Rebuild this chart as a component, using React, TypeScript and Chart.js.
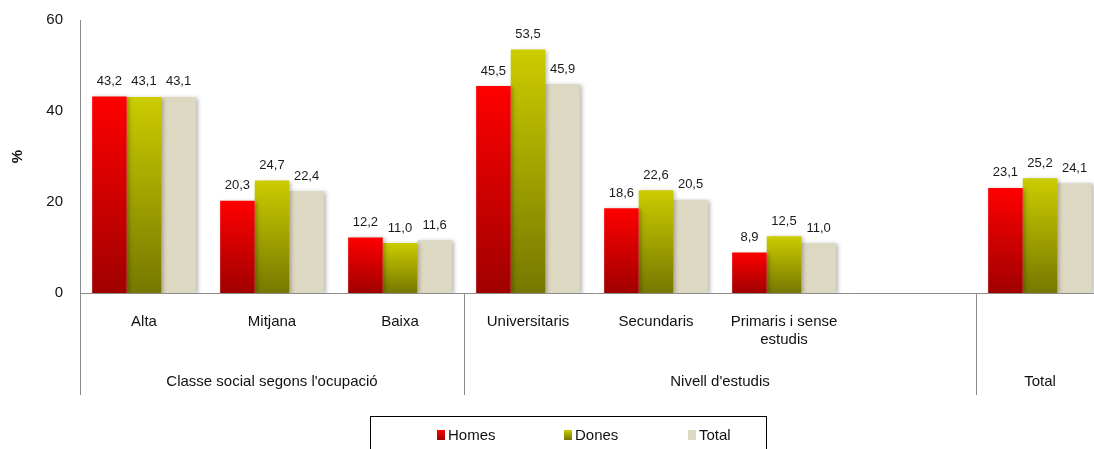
import React, { useEffect, useRef } from "react";
import { Chart, registerables } from "chart.js";

Chart.register(...registerables);

const categories: (string | string[])[] = [
  "Alta",
  "Mitjana",
  "Baixa",
  "Universitaris",
  "Secundaris",
  ["Primaris i sense", "estudis"],
  "",
  "",
];
const homes: (number | null)[] = [43.2, 20.3, 12.2, 45.5, 18.6, 8.9, null, 23.1];
const dones: (number | null)[] = [43.1, 24.7, 11.0, 53.5, 22.6, 12.5, null, 25.2];
const total: (number | null)[] = [43.1, 22.4, 11.6, 45.9, 20.5, 11.0, null, 24.1];
const groupLabels = ["Classe social segons l'ocupació", "Nivell d'estudis", "Total"];
const groupStarts = [0, 3, 7];
const groupEnds = [2, 6, 7];
const groupDividers = [2.5, 6.5];
const seriesNames = ["Homes", "Dones", "Total"];
const yTicks = [0, 20, 40, 60];
const yMin = 0;
const yMax = 60;
const axisTitle = "%";

const FONT = "'Liberation Sans', Arial, sans-serif";

const grads: [string, string][] = [
  ["#ff0000", "#a00000"],
  ["#cccc00", "#777700"],
  ["#ddd8c2", "#ddd8c2"],
];

function makeBg(idx: number) {
  return (ctx: any) => {
    const chart = ctx.chart;
    const [top, bot] = grads[idx];
    if (ctx.type !== "data" || !chart.chartArea || ctx.raw == null) return top;
    const ys = chart.scales.y;
    const y0 = ys.getPixelForValue(ctx.raw);
    const y1 = ys.getPixelForValue(0);
    if (!isFinite(y0) || !isFinite(y1) || y1 - y0 < 1) return top;
    const g = chart.ctx.createLinearGradient(0, y0, 0, y1);
    g.addColorStop(0, top);
    g.addColorStop(1, bot);
    return g;
  };
}

const decorPlugin = {
  id: "decor",
  beforeDatasetsDraw(chart: any) {
    const ctx = chart.ctx;
    ctx.save();
    ctx.shadowColor = "rgba(0,0,0,0.28)";
    ctx.shadowBlur = 4;
    ctx.shadowOffsetX = 2;
    ctx.shadowOffsetY = 1;
  },
  afterDatasetsDraw(chart: any) {
    chart.ctx.restore();
  },
  afterDraw(chart: any) {
    const ctx = chart.ctx;
    const ca = chart.chartArea;
    const xs = chart.scales.x;
    const ys = chart.scales.y;
    ctx.save();
    ctx.shadowColor = "transparent";
    // axes
    ctx.strokeStyle = "#8c8c8c";
    ctx.lineWidth = 1;
    ctx.beginPath();
    ctx.moveTo(Math.round(ca.left) + 0.5, ca.top);
    ctx.lineTo(Math.round(ca.left) + 0.5, ca.bottom + 102);
    ctx.moveTo(ca.left, Math.round(ca.bottom) + 0.5);
    ctx.lineTo(ca.right + 20, Math.round(ca.bottom) + 0.5);
    for (const d of groupDividers) {
      const x = Math.round(xs.getPixelForValue(d)) + 0.5;
      ctx.moveTo(x, ca.bottom);
      ctx.lineTo(x, ca.bottom + 102);
    }
    ctx.stroke();

    // y tick labels
    ctx.fillStyle = "#111";
    ctx.font = `15px ${FONT}`;
    ctx.textAlign = "right";
    ctx.textBaseline = "middle";
    yTicks.forEach((t) => ctx.fillText(String(t), ca.left - 17, ys.getPixelForValue(t)));

    // data labels
    ctx.fillStyle = "#1a1a1a";
    ctx.font = `13px ${FONT}`;
    ctx.textAlign = "center";
    chart.data.datasets.forEach((ds: any, di: number) => {
      const meta = chart.getDatasetMeta(di);
      meta.data.forEach((el: any, i: number) => {
        const v = ds.data[i];
        if (v == null) return;
        ctx.fillText(v.toFixed(1).replace(".", ","), el.x, el.y - 15);
      });
    });

    // category labels
    ctx.font = `15px ${FONT}`;
    ctx.fillStyle = "#111";
    categories.forEach((c, i) => {
      const lines = Array.isArray(c) ? c : [c];
      const x = xs.getPixelForValue(i);
      lines.forEach((l, k) => ctx.fillText(l, x, ca.bottom + 29 + k * 18));
    });

    // group labels
    groupLabels.forEach((g, i) => {
      const x0 = xs.getPixelForValue(groupStarts[i] - 0.5);
      const x1 = xs.getPixelForValue(groupEnds[i] + 0.5);
      ctx.fillText(g, (x0 + x1) / 2, ca.bottom + 89);
    });

    // y title
    ctx.save();
    ctx.translate(18, (ca.top + ca.bottom) / 2);
    ctx.rotate(-Math.PI / 2);
    ctx.font = `bold 15px ${FONT}`;
    ctx.fillText(axisTitle, 0, 0);
    ctx.restore();

    // legend
    ctx.strokeStyle = "#000";
    ctx.lineWidth = 1;
    ctx.strokeRect(370.5, 416.5, 396, 50);
    const lx = [437, 564, 688];
    ctx.textAlign = "left";
    seriesNames.forEach((n, i) => {
      const g = ctx.createLinearGradient(0, 430, 0, 440);
      g.addColorStop(0, grads[i][0]);
      g.addColorStop(1, grads[i][1]);
      ctx.fillStyle = g;
      ctx.fillRect(lx[i], 430, 8, 10);
      ctx.fillStyle = "#111";
      ctx.fillText(n, lx[i] + 11, 436);
    });
    ctx.restore();
  },
};

export default function App() {
  const ref = useRef<HTMLCanvasElement>(null);
  useEffect(() => {
    if (!ref.current) return;
    const chart = new Chart(ref.current, {
      type: "bar",
      data: {
        labels: categories.map((c, i) => (Array.isArray(c) ? c.join(" ") : c || `c${i}`)),
        datasets: [
          { label: seriesNames[0], data: homes, backgroundColor: makeBg(0) },
          { label: seriesNames[1], data: dones, backgroundColor: makeBg(1) },
          { label: seriesNames[2], data: total, backgroundColor: makeBg(2) },
        ],
      },
      options: {
        responsive: false,
        animation: false,
        devicePixelRatio: 1,
        layout: { padding: { left: 0, top: 20, right: 6, bottom: 156 } },
        datasets: { bar: { categoryPercentage: 0.81, barPercentage: 1.0 } },
        plugins: { legend: { display: false }, title: { display: false }, tooltip: { enabled: false } },
        scales: {
          x: {
            ticks: { display: false },
            grid: { display: false, drawTicks: false },
            border: { display: false },
            afterFit: (s: any) => {
              s.height = 0;
            },
          },
          y: {
            min: yMin,
            max: yMax,
            ticks: { display: false },
            grid: { display: false, drawTicks: false },
            border: { display: false },
            afterFit: (s: any) => {
              s.width = 80;
            },
          },
        },
      },
      plugins: [decorPlugin],
    });
    return () => chart.destroy();
  }, []);
  return (
    <div
      style={{
        position: "fixed",
        left: 0,
        top: 0,
        width: 1094,
        height: 449,
        overflow: "hidden",
        background: "#fff",
      }}
    >
      <canvas ref={ref} width={1110} height={449} style={{ display: "block" }} />
    </div>
  );
}
